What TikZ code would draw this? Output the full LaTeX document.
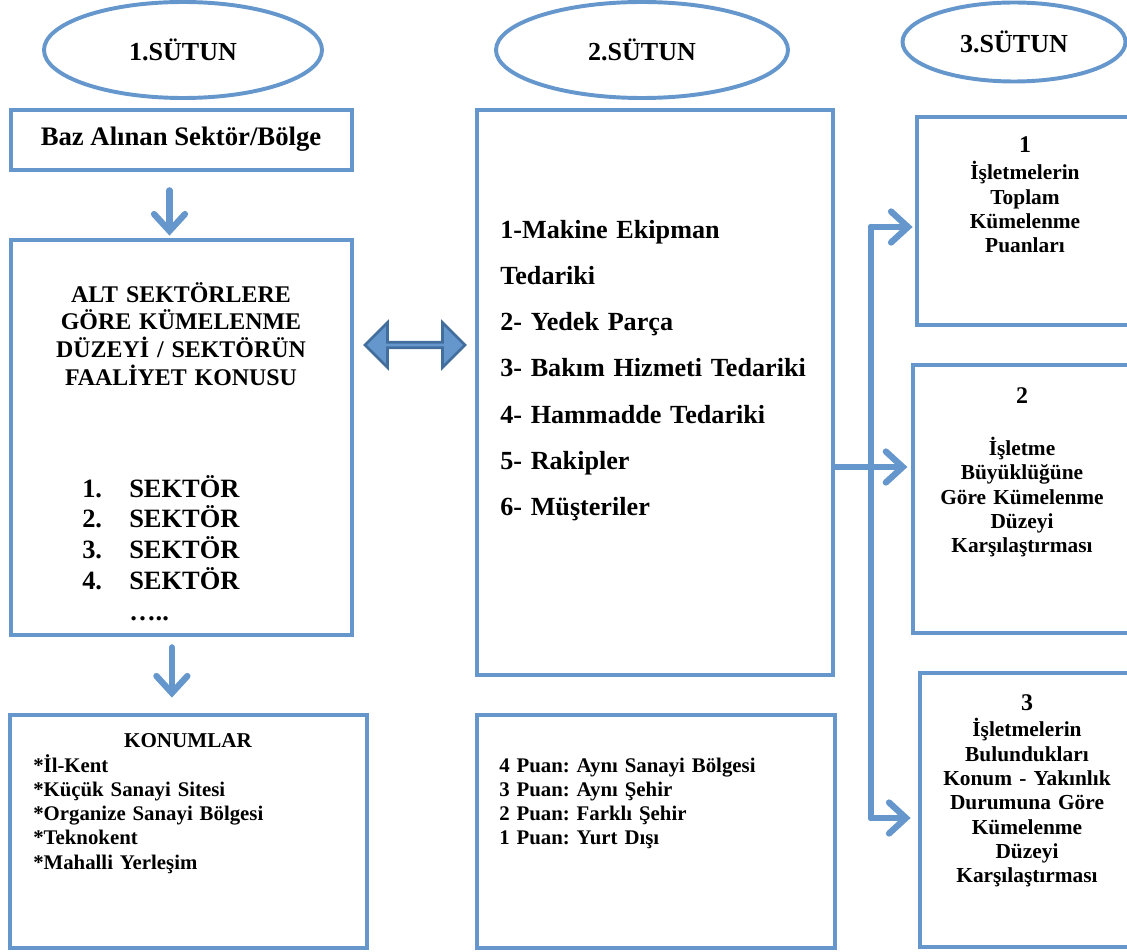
\documentclass[tikz,border=0pt]{standalone}
\usepackage{fontspec}
\setmainfont{Liberation Serif}
\usetikzlibrary{arrows.meta,fit,shapes.arrows,shapes.geometric,positioning}
\definecolor{frameblue}{RGB}{101,151,205}
\definecolor{darkedge}{RGB}{66,110,158}
\frenchspacing

\begin{document}
\begin{tikzpicture}[x=0.25mm, y=-0.25mm,
  box/.style = {draw=frameblue, line width=3.4pt, inner sep=0pt},
  colhead/.style = {draw=frameblue, line width=2.8pt, ellipse, inner sep=0pt, font=\bfseries\fontsize{18.5}{20}\selectfont},
  flow/.style = {draw=frameblue, line width=4.5pt, line cap=round, -{Straight Barb[length=12pt, width=22pt, line cap=round]}},
  rail/.style = {draw=frameblue, line width=4.5pt, line cap=round},
  dblarrow/.style = {double arrow, draw=darkedge, fill=frameblue, line width=2pt, minimum height=25mm, minimum width=11.25mm, double arrow head extend=2.6mm, inner sep=0pt},
  biglist/.style = {inner sep=0pt, anchor=base west, text width=85mm, align=left, font=\bfseries\fontsize{18.6}{32.9}\selectfont},
  smalllist/.style = {inner sep=0pt, anchor=base west, text width=85mm, align=left, font=\bfseries\fontsize{14.8}{17.3}\selectfont},
  sidetext/.style = {inner sep=0pt, anchor=base, text width=52mm, align=center, font=\bfseries\fontsize{15.2}{17.3}\selectfont}]
  \useasboundingbox (0,0) rectangle (1127,951);
  \clip (0,0) rectangle (1127,951);

  \node[colhead, minimum width=69.5mm, minimum height=24mm] (c1) at (183,50) {1.SÜTUN};
  \node[colhead, minimum width=73mm, minimum height=24mm] (c2) at (642,50) {2.SÜTUN};
  \node[colhead, minimum width=55.75mm, minimum height=19.75mm] (c3) at (1014,42) {3.SÜTUN};

  % 1. sutun
  \node[box, fit={(11,110) (352,170)}] (baz) {};
  \node[inner sep=0pt, anchor=base, font=\bfseries\fontsize{19}{22}\selectfont] (bazlbl) at (181,146) {Baz Alınan Sektör/Bölge};
  \node[box, fit={(11,240) (352,635)}] (alt) {};
  \node[inner sep=0pt, anchor=base, text width=80mm, align=center, font=\bfseries\fontsize{17}{19.7}\selectfont] (altlbl) at (181,302) {ALT SEKTÖRLERE\\GÖRE KÜMELENME\\DÜZEYİ / SEKTÖRÜN\\FAALİYET KONUSU};
  \node[inner sep=0pt, anchor=base west, text width=50mm, align=left, font=\bfseries\fontsize{18.8}{22}\selectfont] (sectors) at (82,497) {\makebox[11.75mm][l]{1.}SEKTÖR\\\makebox[11.75mm][l]{2.}SEKTÖR\\\makebox[11.75mm][l]{3.}SEKTÖR\\\makebox[11.75mm][l]{4.}SEKTÖR\\\hspace*{11.75mm}…..};
  \node[box, fit={(10,715) (367,948)}] (konum) {};
  \node[inner sep=0pt, anchor=base, font=\bfseries\fontsize{15}{17}\selectfont] (konumlbl) at (188,747) {KONUMLAR};
  \node[smalllist] (places) at (33,772) {*İl-Kent\\{}*Küçük Sanayi Sitesi\\{}*Organize Sanayi Bölgesi\\{}*Teknokent\\{}*Mahalli Yerleşim};

  % 2. sutun
  \node[box, fit={(477,110) (833,675)}] (supply) {};
  \node[biglist] (supplylist) at (500,238) {1-Makine Ekipman\\Tedariki\\2- Yedek Parça\\3- Bakım Hizmeti Tedariki\\4- Hammadde Tedariki\\5- Rakipler\\6- Müşteriler};
  \node[box, fit={(477,715) (835,948)}] (score) {};
  \node[smalllist] (scorelist) at (499,772) {4 Puan: Aynı Sanayi Bölgesi\\3 Puan: Aynı Şehir\\2 Puan: Farklı Şehir\\1 Puan: Yurt Dışı};

  % 3. sutun
  \node[box, fit={(917,117) (1140,325)}] (total) {};
  \node[sidetext] (totallbl) at (1025,153) {{\fontsize{17}{20}\selectfont 1}\\[1.8pt]İşletmelerin\\Toplam\\Kümelenme\\Puanları};
  \node[box, fit={(913,365) (1140,633)}] (size) {};
  \node[sidetext] (sizelbl) at (1022,403) {{\fontsize{17}{20}\selectfont 2}\\[20pt]İşletme\\Büyüklüğüne\\Göre Kümelenme\\Düzeyi\\Karşılaştırması};
  \node[box, fit={(920,673) (1140,947)}] (place) {};
  \node[sidetext] (placelbl) at (1027,710) {{\fontsize{17}{20}\selectfont 3}\\[1.8pt]İşletmelerin\\Bulundukları\\Konum - Yakınlık\\Durumuna Göre\\Kümelenme\\Düzeyi\\Karşılaştırması};

  \node[dblarrow] (link) at (415,345) {};

  \draw[flow, shorten <=4.5mm, shorten >=0.5mm] ([xshift=-3mm]baz.south) -- ([xshift=-3mm]alt.north);
  \draw[flow, shorten <=2.5mm, shorten >=3.75mm] ([xshift=-2.4mm]alt.south) -- ([xshift=-2.4mm]alt.south |- konum.north);

  \coordinate (split) at (871,467);
  \coordinate (jtop) at (871,227);
  \coordinate (jbot) at (871,818);
  \draw[rail] (jtop) -- (jbot);
  \draw[rail] (supply.east |- split) -- (split);
  \draw[flow, shorten >=0.5mm] (jtop) -- (jtop -| total.west);
  \draw[flow, shorten >=0.8mm] (split) -- (split -| size.west);
  \draw[flow, shorten >=1.75mm] (jbot) -- (jbot -| place.west);
\end{tikzpicture}
\end{document}
